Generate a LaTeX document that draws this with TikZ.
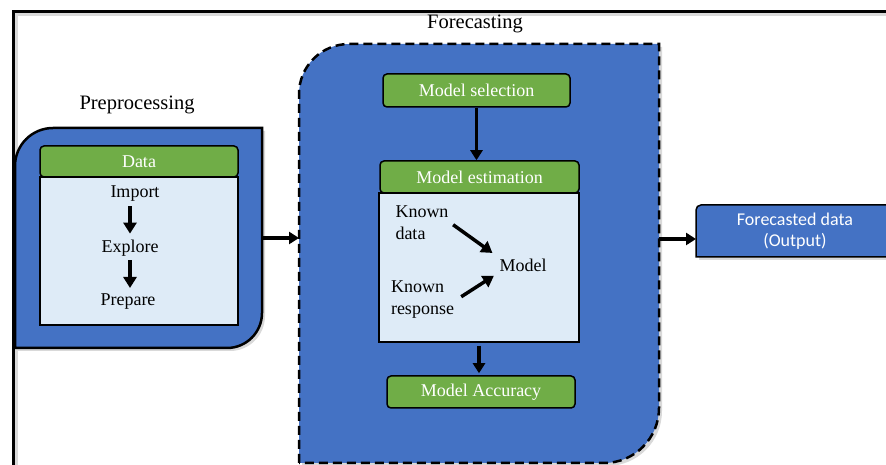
\documentclass[tikz,border=0pt]{standalone}
\usepackage{fontspec}
\setmainfont{Liberation Serif}
\newfontfamily\calibri{Carlito}
\usetikzlibrary{calc, positioning, arrows.meta, shadows}

\definecolor{boxblue}{HTML}{4472C4}
\definecolor{boxgreen}{HTML}{70AD47}
\definecolor{paleblue}{HTML}{DEEBF7}

\tikzset{
  hdr/.style={draw=black, line width=1.5pt, fill=boxgreen, rounded corners=4pt, text=white, inner sep=0pt, font=\fontsize{18}{22}\selectfont},
  panel/.style={draw=black, line width=1.5pt, fill=paleblue, inner sep=0pt},
  lbl/.style={font=\fontsize{18}{22}\selectfont, inner sep=2pt},
  ttl/.style={font=\fontsize{20.5}{24}\selectfont},
  arr/.style={-{Triangle[width=12pt,length=10pt]}, line width=3.2pt},
  sarr/.style={-{Triangle[width=13pt,length=11pt]}, line width=3.5pt},
  shd/.style={drop shadow={opacity=0.3, shadow xshift=3pt, shadow yshift=-3pt}}
}

\begin{document}
\begin{tikzpicture}[x=1pt, y=1pt]
  \useasboundingbox (0,0) rectangle (886,465);
  \clip (0,0) rectangle (886,465);

  % Frame
  \draw[black!15, line width=3pt] (16,-10) -- (16,450) -- (900,450);
  \draw[line width=3pt] (13,-10) -- (13,453) -- (900,453);

  % Preprocessing
  \path[fill=boxblue, draw=black, line width=2.5pt, shd] (15,117) -- (15,299) arc[start angle=180, end angle=90, radius=38] -- (262,337) -- (262,152) arc[start angle=0, end angle=-90, radius=35] -- cycle;
  \node[ttl] (pretitle) at (137,360) {Preprocessing};
  \node[panel, minimum width=198pt, minimum height=148pt] (prebox) at (139,214) {};
  \node[hdr, minimum width=198pt, minimum height=31pt] (data) at (139,303.5) {Data};
  \node[lbl] (import) at (135,271) {Import};
  \node[lbl] (explore) at (130,217) {Explore};
  \node[lbl] (prepare) at (128,163) {Prepare};
  \draw[sarr, shorten <=2pt, shorten >=4pt] (explore.north |- import.south) -- (explore.north);
  \draw[sarr, shorten <=2pt, shorten >=4pt] (explore.south) -- (explore.south |- prepare.north);

  % Forecasting
  \path[fill=boxblue, draw=black, line width=2.5pt, dash pattern=on 9pt off 5pt, shd] (299,2) -- (299,371) arc[start angle=180, end angle=90, radius=50] -- (659,421) -- (659,57) arc[start angle=0, end angle=-90, radius=55] -- cycle;
  \node[ttl] (fctitle) at (475,441) {Forecasting};
  \node[hdr, minimum width=187pt, minimum height=33pt] (msel) at (476.5,374.5) {Model selection};
  \node[panel, minimum width=200pt, minimum height=149pt] (estbox) at (479,197.5) {};
  \node[hdr, minimum width=199pt, minimum height=32pt] (mest) at (479.5,288) {Model estimation};
  \node[lbl, align=left] (kdata) at (422,242) {Known\\data};
  \node[lbl] (model) at (523,200) {Model};
  \node[lbl, align=left] (kresp) at (422.5,165) {Known\\response};
  \node[hdr, minimum width=188pt, minimum height=32pt] (macc) at (481,73) {Model Accuracy};
  \draw[arr] (msel.south) -- (msel.south |- mest.north);
  \draw[sarr, shorten <=3pt, shorten >=6pt] (kdata.east) -- (model.north west);
  \draw[sarr, shorten <=6pt, shorten >=4pt] (kresp.east) -- (model.south west);
  \draw[arr, shorten <=3pt, shorten >=2pt] (estbox.south) -- (estbox.south |- macc.north);

  % Output
  \path[fill=boxblue, draw=black, line width=1.5pt, shd] (696,208) -- (696,255) arc[start angle=180, end angle=90, radius=5] -- (900,260) -- (900,208) -- cycle;
  \node[font=\calibri\fontsize{18}{21}\selectfont, text=white, align=center] (out) at (795,234) {Forecasted data\\(Output)};

  % Links
  \coordinate (preR) at (262,227);
  \coordinate (fcL) at (299,227);
  \coordinate (fcR) at (659,226);
  \coordinate (outL) at (696,226);
  \draw[arr] (preR) -- (fcL);
  \draw[arr] (fcR) -- (outL);
\end{tikzpicture}
\end{document}
